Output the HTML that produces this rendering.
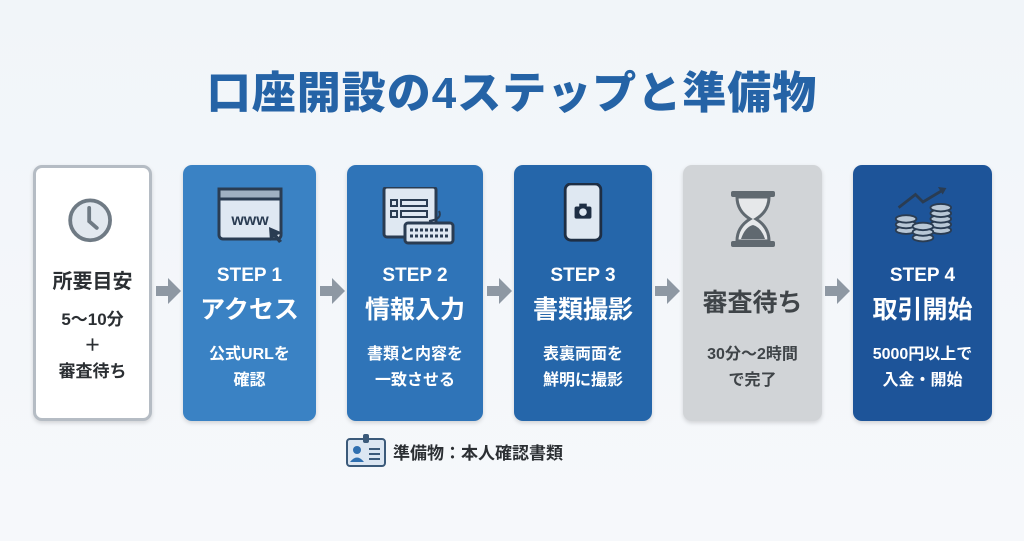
<!DOCTYPE html>
<html><head><meta charset="utf-8"><style>
*{margin:0;padding:0;box-sizing:border-box}
body{width:1024px;height:541px;overflow:hidden;background:linear-gradient(#f1f5f9,#f6f8fb);font-family:"Liberation Sans","Noto Sans CJK JP",sans-serif;position:relative}
.t{position:absolute;top:57px;left:0;width:1024px;text-align:center;font-size:44px;font-weight:900;color:#2563a6;letter-spacing:1px}
.b{position:absolute;top:165px;height:256px;border-radius:9px;color:#fff;text-align:center;box-shadow:0 2px 4px rgba(0,0,0,.15)}
.ic{position:absolute;top:22px;left:0;width:100%;height:60px}
.s{position:absolute;top:100px;width:100%;font-size:19px;font-weight:700}
.h{position:absolute;top:125px;width:100%;font-size:25px;font-weight:700}
.d{position:absolute;top:177px;width:100%;font-size:16px;font-weight:700;line-height:26px}
</style></head><body>
<div class="t">口座開設の4ステップと準備物</div>

<div class="b" style="left:33px;width:119px;background:#fff;border:3px solid #b5bcc4;color:#2b2f33">
<svg class="ic" style="top:28px" viewBox="0 0 119 60"><circle cx="57" cy="24" r="21" fill="#e2e8ef" stroke="#6f7a84" stroke-width="4"/><path d="M56 11v14l8 7" stroke="#6f7a84" stroke-width="4" fill="none" stroke-linecap="round"/></svg>
<div style="position:absolute;top:97px;width:100%;font-size:20px;font-weight:700">所要目安</div>
<div style="position:absolute;top:139px;width:100%;font-size:17px;font-weight:700;line-height:26px">5〜10分<br>＋<br>審査待ち</div>
</div>

<div class="b" style="left:183px;width:133px;background:#3a82c4">
<svg class="ic" viewBox="0 0 133 60"><rect x="36" y="2" width="62" height="50" rx="4" fill="#dfe8f2" stroke="#2a3c52" stroke-width="3"/><rect x="36" y="2" width="62" height="10" fill="#9fb0c2" stroke="#2a3c52" stroke-width="3"/><text x="67" y="38" font-size="16" font-weight="700" fill="#2a3c52" text-anchor="middle" font-family="Liberation Sans">www</text><path d="M86 40l14 6-6 2 5 6-3 2-5-6-4 4z" fill="#2a3c52"/></svg>
<div class="s">STEP 1</div><div class="h">アクセス</div><div class="d">公式URLを<br>確認</div></div>

<div class="b" style="left:347px;width:136px;background:#2f74b8">
<svg class="ic" viewBox="0 0 136 60"><rect x="37" y="0" width="52" height="50" rx="3" fill="#dfe8f2" stroke="#2a3c52" stroke-width="3"/><rect x="44" y="13" width="6" height="6" fill="none" stroke="#2a3c52" stroke-width="2"/><rect x="54" y="13" width="26" height="6" fill="none" stroke="#2a3c52" stroke-width="2"/><rect x="44" y="24" width="6" height="6" fill="none" stroke="#2a3c52" stroke-width="2"/><rect x="54" y="24" width="26" height="6" fill="none" stroke="#2a3c52" stroke-width="2"/><path d="M92 24q4 8-10 10" stroke="#2a3c52" stroke-width="2" fill="none"/><rect x="58" y="36" width="48" height="20" rx="3" fill="#dfe8f2" stroke="#2a3c52" stroke-width="3"/><path d="M63 43h38M63 49h38" stroke="#2a3c52" stroke-width="3" stroke-dasharray="3 2"/></svg>
<div class="s">STEP 2</div><div class="h">情報入力</div><div class="d">書類と内容を<br>一致させる</div></div>

<div class="b" style="left:514px;width:138px;background:#2566aa">
<svg class="ic" style="top:18px" viewBox="0 0 138 64"><rect x="50" y="1" width="38" height="60" rx="6" fill="#dfe8f2" stroke="#1e2e44" stroke-width="3"/><rect x="60" y="25" width="18" height="13" rx="2" fill="#1e2e44"/><rect x="65" y="22" width="8" height="4" fill="#1e2e44"/><circle cx="69" cy="31" r="4" fill="#dfe8f2"/></svg>
<div class="s">STEP 3</div><div class="h">書類撮影</div><div class="d">表裏両面を<br>鮮明に撮影</div></div>

<div class="b" style="left:683px;width:139px;background:#d1d4d7;color:#3f4448">
<svg class="ic" style="top:24px" viewBox="0 0 139 60"><rect x="48" y="2" width="44" height="6" rx="2" fill="#606970"/><rect x="48" y="52" width="44" height="6" rx="2" fill="#606970"/><path d="M54 8h32q0 14-13 22q13 8 13 22h-32q0-14 13-22q-13-8-13-22z" fill="#e6e8ea" stroke="#606970" stroke-width="3"/><path d="M58 50q4-12 12-14q8 2 12 14z" fill="#606970"/></svg>
<div class="h" style="top:118px;font-size:25px">審査待ち</div><div class="d" style="color:#3f4448">30分〜2時間<br>で完了</div></div>

<div class="b" style="left:853px;width:139px;background:#1d5499">
<svg class="ic" viewBox="0 0 139 64"><path d="M44 22l18-14 8 8 20-12" stroke="#2a3c52" stroke-width="3" fill="none"/><path d="M86 0l9 1-4 7z" fill="#2a3c52"/>
<g fill="#b8c7d6" stroke="#2a3c52" stroke-width="2">
<ellipse cx="52" cy="46" rx="11" ry="4"/><ellipse cx="52" cy="40" rx="11" ry="4"/><ellipse cx="52" cy="34" rx="11" ry="4"/>
<ellipse cx="89" cy="46" rx="11" ry="4"/><ellipse cx="89" cy="40" rx="11" ry="4"/><ellipse cx="89" cy="34" rx="11" ry="4"/><ellipse cx="89" cy="28" rx="11" ry="4"/><ellipse cx="89" cy="22" rx="11" ry="4"/>
<ellipse cx="70" cy="54" rx="11" ry="4"/><ellipse cx="70" cy="48" rx="11" ry="4"/><ellipse cx="70" cy="42" rx="11" ry="4"/></g></svg>
<div class="s">STEP 4</div><div class="h">取引開始</div><div class="d">5000円以上で<br>入金・開始</div></div>

<svg style="position:absolute;left:0;top:0" width="1024" height="541">
<g fill="#8e98a3">
<path d="M156 286h12v-8l13 13-13 13v-8h-12z"/>
<path d="M320 286h12v-8l13 13-13 13v-8h-12z"/>
<path d="M487 286h12v-8l13 13-13 13v-8h-12z"/>
<path d="M655 286h12v-8l13 13-13 13v-8h-12z"/>
<path d="M825 286h12v-8l13 13-13 13v-8h-12z"/>
</g>
<rect x="347" y="439" width="38" height="27" rx="3" fill="#dbe6f2" stroke="#3b5a7a" stroke-width="2"/>
<rect x="363" y="434" width="6" height="9" rx="2" fill="#3b5a7a"/>
<circle cx="357" cy="450" r="4" fill="#2f6fb0"/><path d="M350 462q7-9 14 0z" fill="#2f6fb0"/>
<path d="M369 449h11M369 454h11M369 459h11" stroke="#3b5a7a" stroke-width="2"/>
<text x="393" y="459" font-size="17" font-weight="700" fill="#2b2f33" font-family="Liberation Sans,Noto Sans CJK JP,sans-serif">準備物：本人確認書類</text>
</svg>
</body></html>
